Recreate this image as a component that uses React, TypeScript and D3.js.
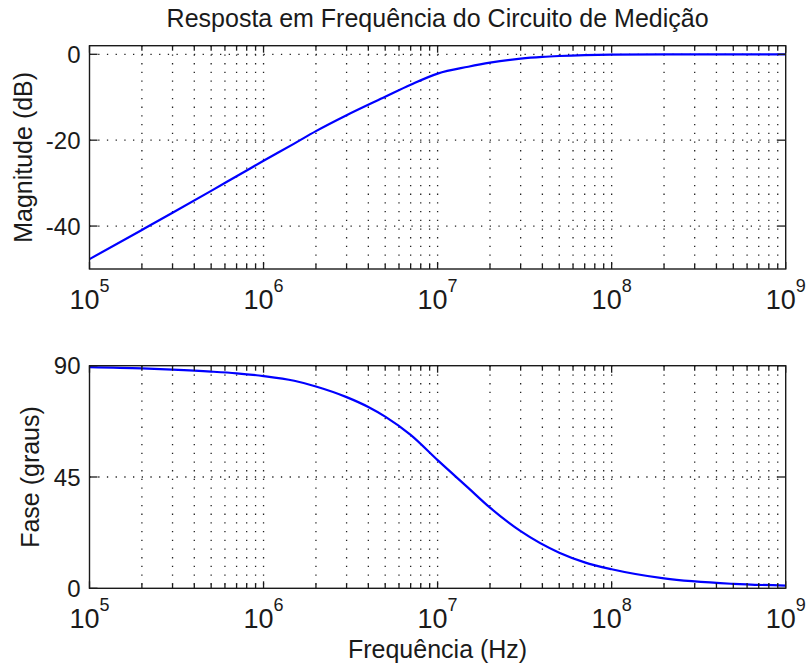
import * as d3 from "d3";

const W = 806;
const H = 669;
const left = 89.5;
const right = 785.7;

// magnitude curve (Hz, dB)
const magFreq = [1e5, 2e5, 3e5, 5e5, 7e5, 1e6, 1.5e6, 2e6, 3e6, 5e6, 7e6, 1e7, 1.5e7, 2e7, 3e7, 4e7, 5e7, 7e7, 1e8, 2e8, 5e8, 1e9];
const magDb = [-47.7, -40.9, -36.9, -31.8, -28.4, -24.8, -20.8, -17.9, -14.2, -9.9, -7.1, -4.5, -2.9, -1.95, -1.0, -0.6, -0.4, -0.2, -0.1, -0.03, 0, 0];

// phase curve (Hz, degrees)
const phaseFreq = [1e5, 2e5, 3e5, 5e5, 7e5, 1e6, 1.5e6, 2e6, 3e6, 4e6, 5e6, 7e6, 1e7, 1.5e7, 2e7, 3e7, 5e7, 7e7, 1e8, 2e8, 5e8, 1e9];
const phaseDeg = [89.4, 88.9, 88.4, 87.6, 86.9, 85.8, 83.9, 81.6, 77.3, 73.3, 69.4, 62.0, 51.8, 40.6, 32.6, 23.1, 14.4, 10.5, 7.7, 4.0, 1.8, 1.1];

const magTicks = [-40, -20, 0];
const phaseTicks = [0, 45, 90];
const decadeExp = [5, 6, 7, 8, 9];

const font = "'Liberation Sans', Arial, Helvetica, sans-serif";
const ink = "#1a1a1a";

const x = d3.scaleLog().domain([1e5, 1e9]).range([left, right]);
const allXTicks = x.ticks();

type PanelProps = {
  top: number;
  bottom: number;
  domain: [number, number];
  yTicks: number[];
  freqs: number[];
  values: number[];
  ylabel: string;
  ylabelX: number;
};

const Panel = ({ top, bottom, domain, yTicks, freqs, values, ylabel, ylabelX }: PanelProps) => {
  const y = d3.scaleLinear().domain(domain).range([bottom, top]);
  const line = d3
    .line<number>()
    .x((_, i) => x(freqs[i]))
    .y((d) => y(d))
    .curve(d3.curveMonotoneX);

  return (
    <g>
      {/* grid */}
      {allXTicks
        .filter((t) => x(t) > left + 1 && x(t) < right - 1)
        .map((t, i) => (
          <line key={"gx" + i} x1={x(t)} x2={x(t)} y1={top} y2={bottom} stroke="#222" strokeWidth={1.3} strokeDasharray="1.3 7.4" />
        ))}
      {yTicks
        .filter((t) => y(t) > top + 1 && y(t) < bottom - 1)
        .map((t, i) => (
          <line key={"gy" + i} x1={left} x2={right} y1={y(t)} y2={y(t)} stroke="#222" strokeWidth={1.3} strokeDasharray="1.3 7.4" />
        ))}

      {/* data */}
      <path d={line(values) ?? ""} fill="none" stroke="#0000ff" strokeWidth={2.2} />

      {/* x ticks, inside, bottom and top */}
      {allXTicks.map((t, i) => {
        const major = Math.abs(Math.log10(t) - Math.round(Math.log10(t))) < 1e-9;
        const len = major ? 7 : 5;
        return (
          <g key={"tx" + i}>
            <line x1={x(t)} x2={x(t)} y1={bottom} y2={bottom - len} stroke={ink} strokeWidth={1.3} />
            <line x1={x(t)} x2={x(t)} y1={top} y2={top + len} stroke={ink} strokeWidth={1.3} />
          </g>
        );
      })}
      {yTicks.map((t, i) => (
        <g key={"ty" + i}>
          <line x1={left} x2={left + 8} y1={y(t)} y2={y(t)} stroke={ink} strokeWidth={1.3} />
          <line x1={right} x2={right - 8} y1={y(t)} y2={y(t)} stroke={ink} strokeWidth={1.3} />
          <text x={left - 9} y={y(t)} dy="0.36em" textAnchor="end" fontSize={24} fill={ink}>
            {t}
          </text>
        </g>
      ))}

      {/* box */}
      <rect x={left} y={top} width={right - left} height={bottom - top} fill="none" stroke={ink} strokeWidth={1.4} />

      {/* x tick labels */}
      {decadeExp.map((e) => (
        <text key={"lx" + e} x={x(Math.pow(10, e))} y={bottom + 40} textAnchor="middle" fill={ink}>
          <tspan fontSize={27}>10</tspan>
          <tspan fontSize={18} dy={-17}>
            {e}
          </tspan>
        </text>
      ))}

      <text transform={`translate(${ylabelX},${(top + bottom) / 2}) rotate(-90)`} textAnchor="middle" fontSize={25} fill={ink}>
        {ylabel}
      </text>
    </g>
  );
};

export default function App() {
  return (
    <svg width={W} height={H} style={{ position: "absolute", left: 0, top: 0, background: "#fff" }} fontFamily={font}>
      <rect width={W} height={H} fill="#fff" />
      <text x={(left + right) / 2} y={27} textAnchor="middle" fontSize={25} fill={ink}>
        Resposta em Frequência do Circuito de Medição
      </text>
      <Panel top={45.7} bottom={269} domain={[-50, 2]} yTicks={magTicks} freqs={magFreq} values={magDb} ylabel="Magnitude (dB)" ylabelX={32} />
      <Panel top={365.7} bottom={588.3} domain={[0, 90]} yTicks={phaseTicks} freqs={phaseFreq} values={phaseDeg} ylabel="Fase (graus)" ylabelX={39} />
      <text x={(left + right) / 2} y={658} textAnchor="middle" fontSize={25} fill={ink}>
        Frequência (Hz)
      </text>
    </svg>
  );
}
